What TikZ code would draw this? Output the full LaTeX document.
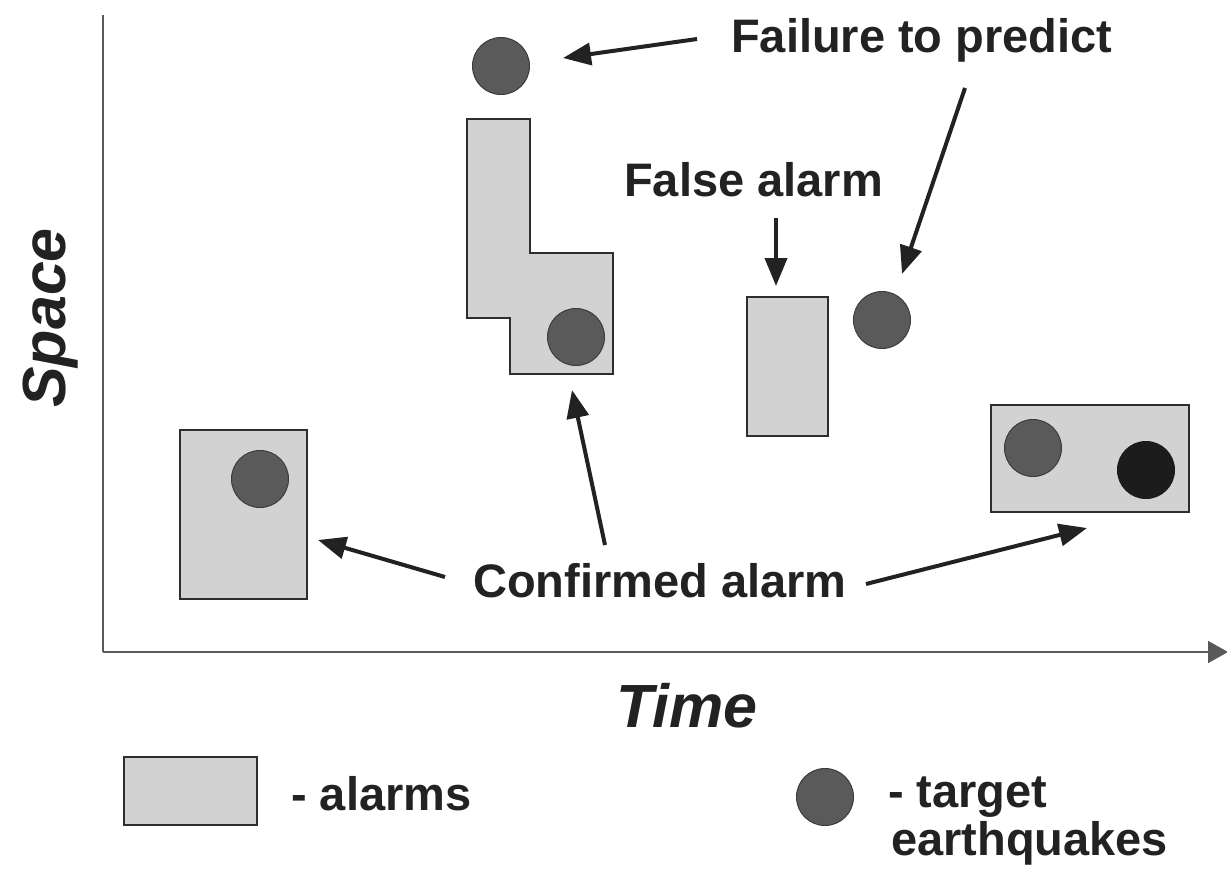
\documentclass[tikz,border=0pt]{standalone}
\usepackage{fontspec}
\setmainfont{Liberation Sans}
\usetikzlibrary{arrows.meta}
\definecolor{alarmfill}{HTML}{D2D2D2}
\definecolor{alarmedge}{HTML}{2E2E2E}
\definecolor{quakefill}{HTML}{5A5A5A}
\definecolor{quakeedge}{HTML}{3C3C3C}
\definecolor{quakedark}{HTML}{1C1C1C}
\definecolor{ink}{HTML}{222222}
\begin{document}
\begin{tikzpicture}[x=1pt,y=-1pt,
  alarmpaint/.style={draw=alarmedge, line width=1.6pt, fill=alarmfill},
  alarm/.style={alarmpaint, rectangle, inner sep=0pt},
  quake/.style={circle, fill=quakefill, draw=quakeedge, line width=1pt, minimum size=57pt, inner sep=0pt},
  lbl/.style={font=\fontsize{47}{48}\selectfont\bfseries, text=ink, inner sep=0pt, anchor=base west},
  axlbl/.style={font=\fontsize{61}{62}\selectfont\bfseries\itshape, text=ink, inner sep=0pt, anchor=base west},
  arr/.style={draw=ink, line width=4pt, -{Triangle[length=28pt,width=22pt]}},
  axis/.style={draw=black!65, line width=1.8pt}]
\useasboundingbox (0,0) rectangle (1227,870);

% axes
\coordinate (origin) at (103,652);
\coordinate (ytop) at (103,15);
\coordinate (xend) at (1227,652);
\draw[axis] (ytop) -- (origin);
\draw[axis, -{Triangle[length=20pt,width=22pt]}, shorten >=-1pt] (origin) -- (xend);
\node[axlbl, rotate=90] (space) at (65,408) {Space};
\node[axlbl] (time) at (616,727) {Time};

% alarm areas
\node[alarm, minimum width=127pt, minimum height=169pt] (a1) at (243.5,514.5) {};
\draw[alarmpaint] (467,119) -- (530,119) -- (530,253) -- (613,253) -- (613,374)
  -- (510,374) -- (510,318) -- (467,318) -- cycle;
\coordinate (a2) at (561,374);
\node[alarm, minimum width=81pt, minimum height=139pt] (a3) at (787.5,366.5) {};
\node[alarm, minimum width=198pt, minimum height=107pt] (a4) at (1090,458.5) {};

% target earthquakes
\node[quake] (q1) at (501,66) {};
\node[quake] (q2) at (576,337) {};
\node[quake] (q3) at (882,320) {};
\node[quake] (q4) at (260,479) {};
\node[quake] (q5) at (1033,448) {};
\node[quake, fill=quakedark, draw=quakedark] (q6) at (1146,470) {};

% labels
\node[lbl] (fail) at (731,52) {Failure to predict};
\node[lbl] (false) at (624,196) {False alarm};
\node[lbl] (conf) at (473,597) {Confirmed alarm};

% arrow ends
\coordinate (f1s) at (697,39);
\coordinate (f1e) at (563,58);
\coordinate (f2s) at (965,88);
\coordinate (f2e) at (902,274);
\coordinate (fas) at (776,218);
\coordinate (fae) at (776,286);
\coordinate (c1s) at (445,577);
\coordinate (c1e) at (318,540);
\coordinate (c2s) at (605,545);
\coordinate (c2e) at (572,390);
\coordinate (c3s) at (866,584);
\coordinate (c3e) at (1087,528);

\draw[arr] (f1s) -- (f1e);
\draw[arr] (f2s) -- (f2e);
\draw[arr] (fas) -- (fae);
\draw[arr] (c1s) -- (c1e);
\draw[arr] (c2s) -- (c2e);
\draw[arr] (c3s) -- (c3e);

% legend
\node[alarm, minimum width=133pt, minimum height=68pt] (legalarm) at (190.5,791) {};
\node[lbl] (legalarmtxt) at (291,810) {- alarms};
\node[quake] (legquake) at (825,797) {};
\node[lbl] (legquaketxt) at (888,807) {- target};
\node[lbl] (legquaketxt2) at (891,855) {earthquakes};
\end{tikzpicture}
\end{document}
